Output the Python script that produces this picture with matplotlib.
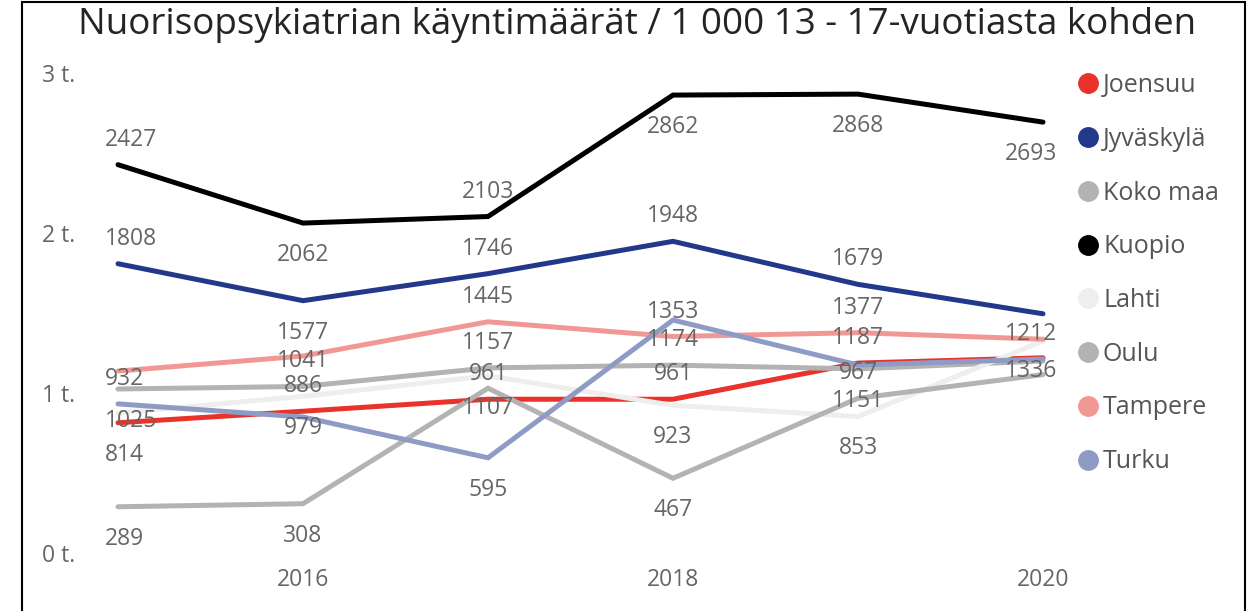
import matplotlib.pyplot as plt
from matplotlib.lines import Line2D
from matplotlib.patches import Rectangle

plt.rcParams['font.family'] = ['Open Sans', 'DejaVu Sans']

# Données (käynnit / 1 000 13-17-vuotiasta)
vuodet = [2015, 2016, 2017, 2018, 2019, 2020]
joensuu = [814, 886, 961, 961, 1187, 1220]
jyvaskyla = [1808, 1577, 1746, 1948, 1679, 1495]
koko_maa = [1025, 1041, 1157, 1174, 1151, 1200]
kuopio = [2427, 2062, 2103, 2862, 2868, 2693]
lahti = [875, 979, 1107, 923, 853, 1325]
oulu = [289, 308, 1030, 467, 967, 1115]
tampere = [1137, 1231, 1445, 1353, 1377, 1336]
turku = [932, 850, 595, 1456, 1175, 1212]

nimet = ["Joensuu", "Jyväskylä", "Koko maa", "Kuopio", "Lahti", "Oulu", "Tampere", "Turku"]
sarjat = [joensuu, jyvaskyla, koko_maa, kuopio, lahti, oulu, tampere, turku]
varit = ["#E8322B", "#22388A", "#B3B3B3", "#000000", "#EEEEEC", "#B3B3B3", "#F29894", "#8E9CC5"]

# placement des étiquettes : a = au-dessus, b = en dessous, - = cachée
etiquettes = ["baaaa-", "abaaa-", "baaab-", "ababbb", "-bbbb-", "bb-ba-", "--aaab", "a-b--a"]

fig = plt.figure(figsize=(12.58, 6.11), dpi=100)
W, H = 1258, 611
ax = fig.add_axes([100 / W, 1 - 560 / H, 960 / W, 500 / H])

for nom, valeurs, couleur in zip(nimet, sarjat, varit):
    ax.plot(vuodet, valeurs, color=couleur, linewidth=3.6, solid_capstyle="round",
            solid_joinstyle="miter")

for valeurs, place in zip(sarjat, etiquettes):
    for i, (x, v, p) in enumerate(zip(vuodet, valeurs, place)):
        if p == "-":
            continue
        dy = 18 if p == "a" else -23
        # les étiquettes restent dans la zone du graphe aux extrémités
        if i == 0:
            dx, ha = -9.5, "left"
        elif i == len(vuodet) - 1:
            dx, ha = 10, "right"
        else:
            dx, ha = 0, "center"
        ax.annotate(str(v), (x, v), xytext=(dx, dy), textcoords="offset points",
                    ha=ha, va="center", fontsize=16.5, color="#666666")

# axes
ax.set_xlim(2015 - 18 / 185, 2020 + 17 / 185)
ax.set_ylim((553 - 560) / 0.16, (553 - 60) / 0.16)
ax.set_xticks([2016, 2018, 2020])
ax.set_yticks([0, 1000, 2000, 3000], ["0 t.", "1 t.", "2 t.", "3 t."])
ax.tick_params(length=0, labelsize=16.5, labelcolor="#666666")
ax.tick_params(axis="y", pad=18)
ax.tick_params(axis="x", pad=6)
for s in ax.spines.values():
    s.set_visible(False)

fig.text(637 / W, 1 - 25 / H, "Nuorisopsykiatrian käyntimäärät / 1 000 13 - 17-vuotiasta kohden",
         ha="center", va="center", fontsize=26.5, color="#252423")

# légende
poignees = [Line2D([], [], linestyle="none", marker="o", markersize=14,
                   markerfacecolor=c, markeredgecolor=c) for c in varit]
fig.legend(poignees, nimet, loc="upper left", bbox_to_anchor=(1068 / W, 1 - 63 / H),
           frameon=False, fontsize=18, labelcolor="#555555", handlelength=0.8,
           handletextpad=0.2, labelspacing=1.15, borderaxespad=0)

# cadre
fig.patches.append(Rectangle((22 / W, -0.01), (1245 - 22) / W, 1.01 - 2 / H,
                             transform=fig.transFigure, fill=False,
                             edgecolor="#000000", linewidth=1.5))

fig.savefig("out.png", dpi=100)
